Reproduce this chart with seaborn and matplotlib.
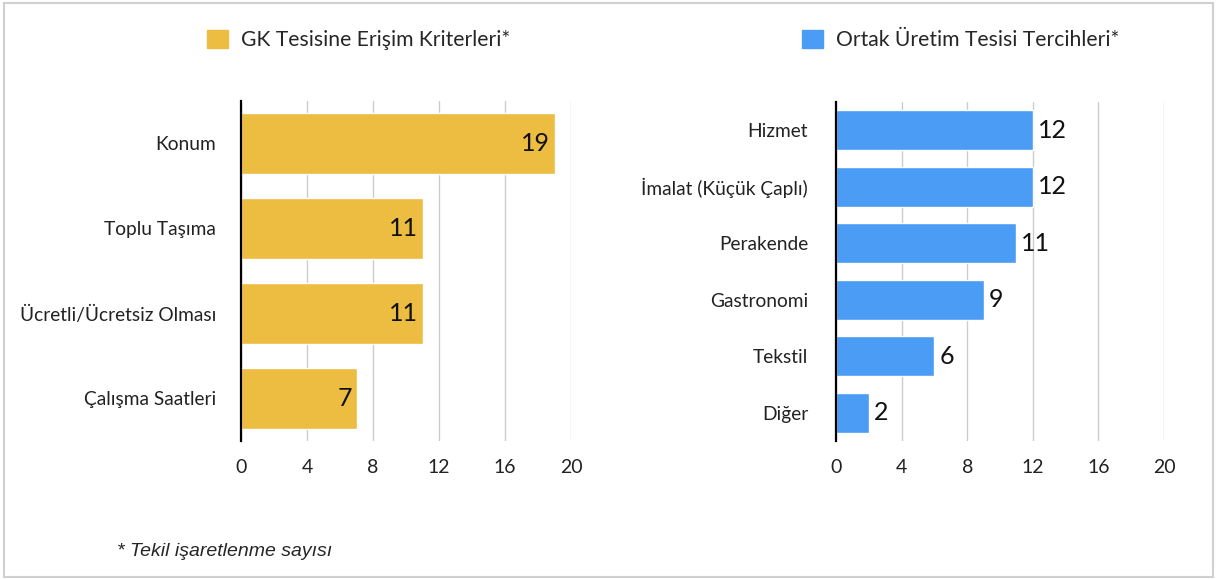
import numpy as np
import pandas as pd
import matplotlib
matplotlib.use("Agg")
import matplotlib.pyplot as plt
from matplotlib.patches import Patch, Rectangle
import seaborn as sns

# Data
left_title = "GK Tesisine Erişim Kriterleri*"
left_cats = ["Konum", "Toplu Taşıma", "Ücretli/Ücretsiz Olması", "Çalışma Saatleri"]
left_vals = [19, 11, 11, 7]

right_title = "Ortak Üretim Tesisi Tercihleri*"
right_cats = ["Hizmet", "İmalat (Küçük Çaplı)", "Perakende", "Gastronomi", "Tekstil", "Diğer"]
right_vals = [12, 12, 11, 9, 6, 2]

x_ticks = [0, 4, 8, 12, 16, 20]
footnote = "* Tekil işaretlenme sayısı"

YELLOW = "#EDBD41"
BLUE = "#4A9CF5"

sns.set_style("white")
plt.rcParams["font.family"] = ["Lato", "DejaVu Sans"]

W, H = 1217, 579
fig = plt.figure(figsize=(W / 100, H / 100), dpi=100)


def px_axes(x0, x1, y_top, y_bot):
    return fig.add_axes([x0 / W, 1 - y_bot / H, (x1 - x0) / W, (y_bot - y_top) / H])


def style_axes(ax, ypad):
    ax.set_xlim(0, 20)
    ax.set_xticks(x_ticks)
    ax.xaxis.grid(True, color="#cccccc", linewidth=1)
    ax.yaxis.grid(False)
    ax.set_axisbelow(True)
    for s in ["top", "right", "bottom"]:
        ax.spines[s].set_visible(False)
    ax.spines["left"].set_color("black")
    ax.spines["left"].set_linewidth(1.6)
    ax.spines["left"].set_zorder(5)
    ax.tick_params(axis="x", length=0, pad=13, labelsize=14, colors="#222222")
    ax.tick_params(axis="y", length=0, pad=ypad, labelsize=13.8, colors="#222222")
    ax.set_xlabel("")
    ax.set_ylabel("")


# --- left chart: labels inside the bars
ax1 = px_axes(241, 571, 101, 441)
df1 = pd.DataFrame({"kategori": left_cats, "sayi": left_vals})
sns.barplot(data=df1, x="sayi", y="kategori", color=YELLOW, saturation=1,
            width=0.71, orient="h", ax=ax1)
style_axes(ax1, 18)
for i, v in enumerate(left_vals):
    ax1.text(v - 0.25, i, str(v), ha="right", va="center", fontsize=18, color="#111111")

# --- right chart: labels after the bars
ax2 = px_axes(836, 1164, 102, 441)
df2 = pd.DataFrame({"kategori": right_cats, "sayi": right_vals})
sns.barplot(data=df2, x="sayi", y="kategori", color=BLUE, saturation=1,
            width=0.71, orient="h", ax=ax2)
style_axes(ax2, 20)
for i, v in enumerate(right_vals):
    ax2.text(v + 0.3, i, str(v), ha="left", va="center", fontsize=18, color="#111111")

# legends above each chart
for title, col, xpx in [(left_title, YELLOW, 207), (right_title, BLUE, 802)]:
    fig.legend(handles=[Patch(color=col, label=title)], loc="center left",
               bbox_to_anchor=(xpx / W, 1 - 40 / H), frameon=False, fontsize=15.2,
               handlelength=1.0, handleheight=0.95, handletextpad=0.6,
               borderpad=0, borderaxespad=0)

# footnote
fig.text(117 / W, 1 - 551 / H, footnote, fontsize=14, style="italic",
         family=["Liberation Sans", "DejaVu Sans"], va="center", ha="left")

# light frame around the whole picture
fig.patches.append(Rectangle((4 / W, 2 / H), 1 - 8 / W, 1 - 5 / H, transform=fig.transFigure,
                             fill=False, edgecolor="#d0d0d0", linewidth=1.5))

fig.savefig("out.png", dpi=100)
